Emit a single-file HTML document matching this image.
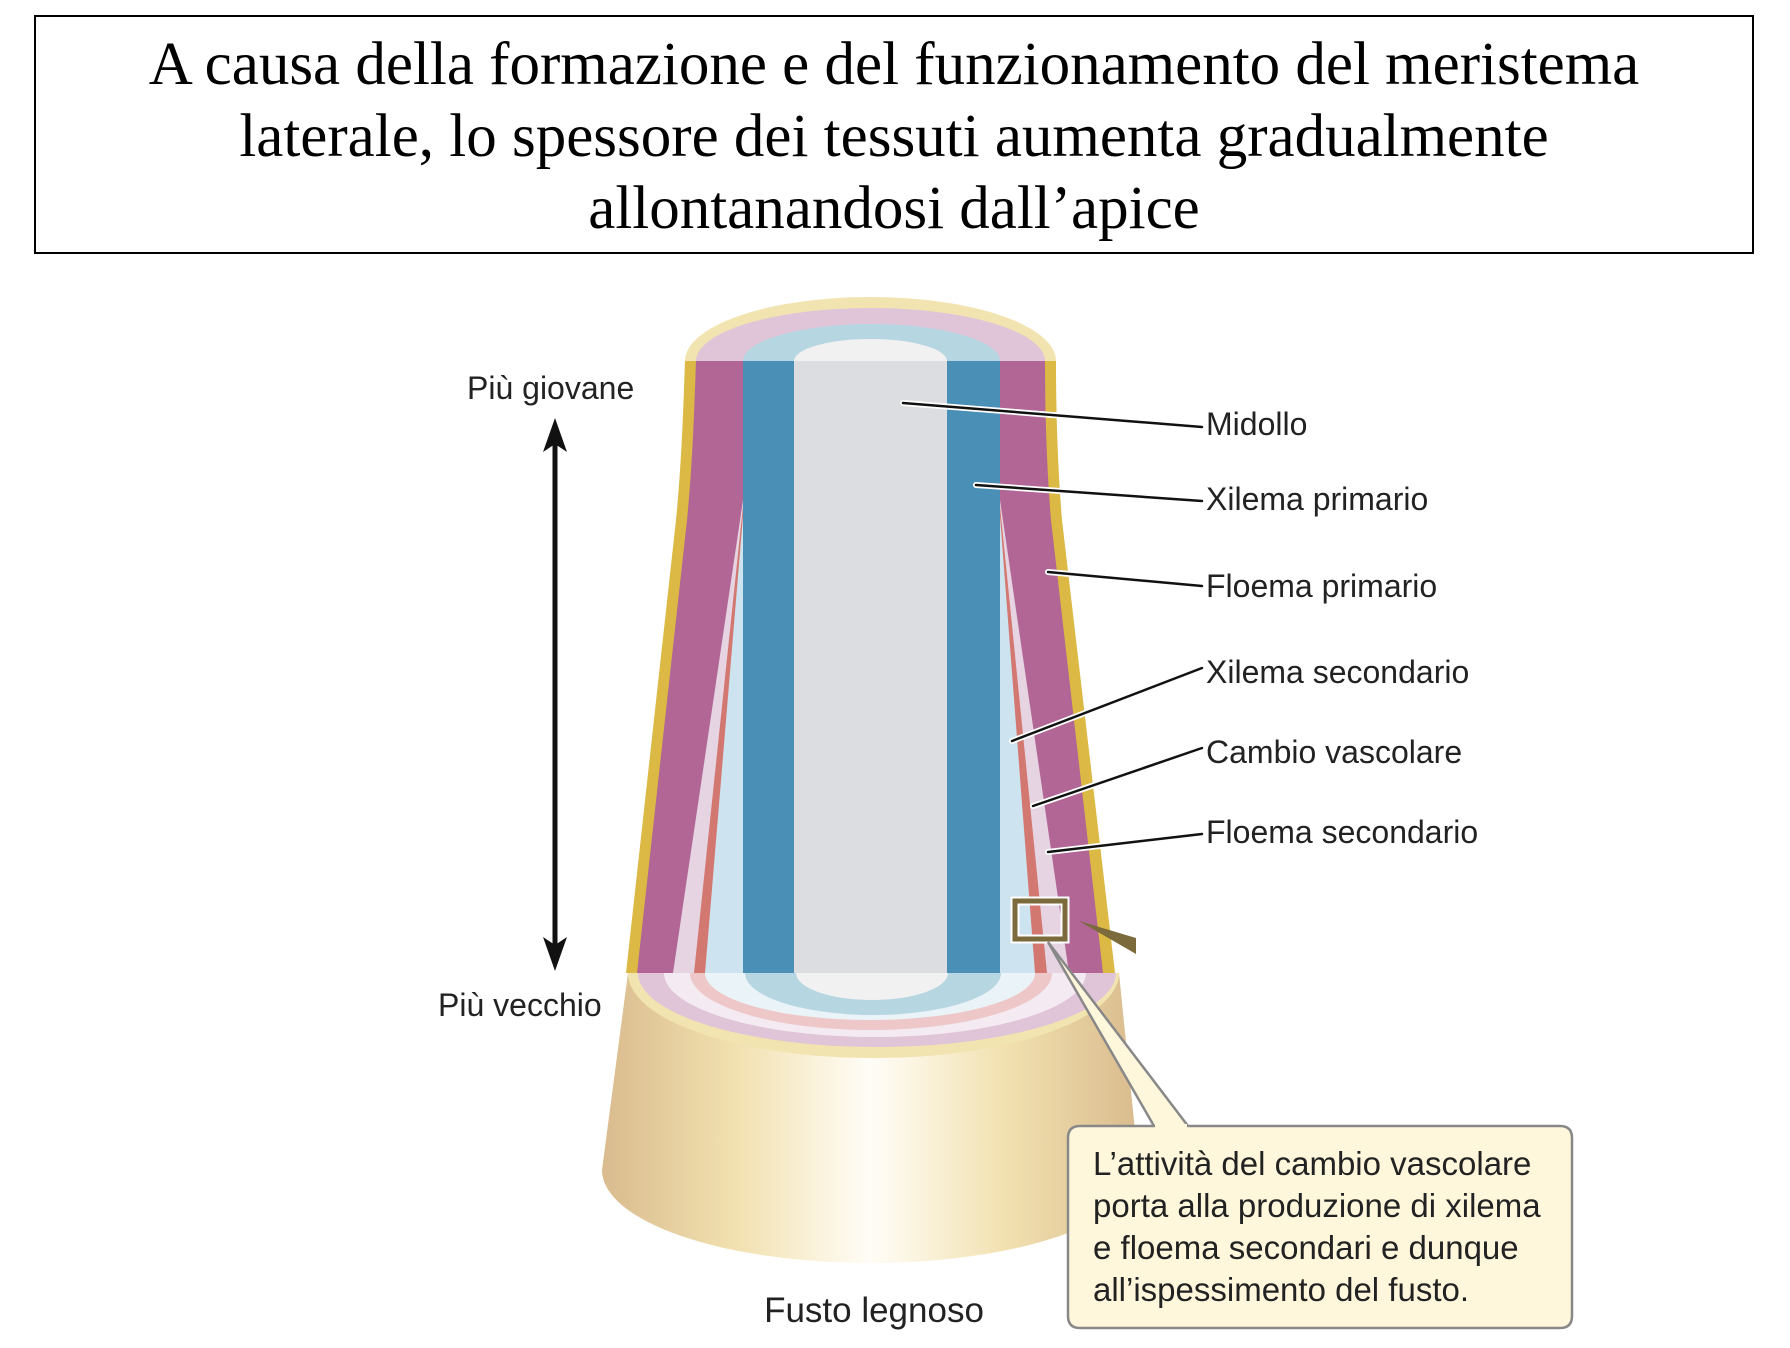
<!DOCTYPE html>
<html><head><meta charset="utf-8"><style>
html,body{margin:0;padding:0;background:#fff;}
body{width:1790px;height:1348px;position:relative;overflow:hidden;}
.title{position:absolute;left:34px;top:15px;width:1720px;height:239px;border:2px solid #000;box-sizing:border-box;font-family:"Liberation Serif",serif;font-size:61px;line-height:72px;text-align:center;padding-top:12px;color:#000;white-space:nowrap;}
svg{position:absolute;left:0;top:0;}
</style></head><body>
<div class="title">A causa della formazione e del funzionamento del meristema<br>laterale, lo spessore dei tessuti aumenta gradualmente<br>allontanandosi dall’apice</div>
<svg width="1790" height="1348" viewBox="0 0 1790 1348">
<defs>
<linearGradient id="tr" x1="0" x2="1" y1="0" y2="0">
<stop offset="0" stop-color="#d9bb8e"/><stop offset="0.25" stop-color="#f2e1b0"/><stop offset="0.5" stop-color="#fffdf7"/><stop offset="0.75" stop-color="#f2e1b0"/><stop offset="1" stop-color="#d9bb8e"/>
</linearGradient>
</defs>
<path d="M628,973 L602,1170 A268.5,93 0 0 0 1139,1170 L1119,973 Z" fill="url(#tr)"/>
<path d="M628,973 A245.5,85 0 0 0 1119,973Z" fill="#f2e4b0"/>
<path d="M638,973 A239,74 0 0 0 1116,973Z" fill="#e0c4d8"/>
<path d="M664,973 A211,64 0 0 0 1086,973Z" fill="#f4eaf2"/>
<path d="M690,973 A181,57 0 0 0 1052,973Z" fill="#eec8c8"/>
<path d="M705,973 A165,47 0 0 0 1035,973Z" fill="#eaf3f7"/>
<path d="M745,973 A128,42 0 0 0 1001,973Z" fill="#b6d6e2"/>
<path d="M796,973 A76,27 0 0 0 948,973Z" fill="#f1f1f1"/>
<path d="M685,360 C683,420 681,470 676,520 L626,973 L1115,973 L1062,520 C1058,470 1056,420 1056,360 Z" fill="#dbb944"/>
<path d="M696,360 C694,420 692,470 687,520 L637,973 L1103,973 L1051,520 C1047,470 1045,420 1045,360 Z" fill="#b16695"/>
<polygon points="743,500 673,973 743,973" fill="#e6d4e2"/>
<polygon points="743,506 694,973 743,973" fill="#d37870"/>
<polygon points="743,516 705,973 743,973" fill="#cde3ef"/>
<polygon points="1000,500 1069,973 1000,973" fill="#e6d4e2"/>
<polygon points="1000,506 1047,973 1000,973" fill="#d37870"/>
<polygon points="1000,516 1035,973 1000,973" fill="#cde3ef"/>
<rect x="743" y="360" width="51" height="613" fill="#4a8fb6"/>
<rect x="947" y="360" width="53" height="613" fill="#4a8fb6"/>
<rect x="794" y="360" width="153" height="613" fill="#dcdde0"/>
<path d="M685,361 A185.5,64 0 0 1 1056,361Z" fill="#f2e4b0"/>
<path d="M696,361 A174.5,53 0 0 1 1045,361Z" fill="#e0c4d8"/>
<path d="M743,361 A128.5,37 0 0 1 1000,361Z" fill="#b6d6e2"/>
<path d="M794,361 A76.5,22 0 0 1 947,361Z" fill="#f1f1f1"/>
<line x1="555" y1="440" x2="555" y2="950" stroke="#111" stroke-width="5"/>
<polygon points="555,418 543,452 555,444 567,452" fill="#111"/>
<polygon points="555,971 543,937 555,945 567,937" fill="#111"/>
<g stroke-linecap="round">
<g stroke="#fff" stroke-width="6">
<line x1="903" y1="403" x2="1202" y2="427"/><line x1="976" y1="485" x2="1202" y2="501"/><line x1="1048" y1="572" x2="1202" y2="586"/><line x1="1012" y1="741" x2="1202" y2="668"/><line x1="1033" y1="806" x2="1202" y2="748"/><line x1="1048" y1="852" x2="1202" y2="834"/>
</g>
<g stroke="#111" stroke-width="2.5">
<line x1="903" y1="403" x2="1202" y2="427"/><line x1="976" y1="485" x2="1202" y2="501"/><line x1="1048" y1="572" x2="1202" y2="586"/><line x1="1012" y1="741" x2="1202" y2="668"/><line x1="1033" y1="806" x2="1202" y2="748"/><line x1="1048" y1="852" x2="1202" y2="834"/>
</g>
</g>
<rect x="1015" y="901" width="50" height="38" fill="none" stroke="#fff" stroke-width="9"/>
<rect x="1015" y="901" width="50" height="38" fill="none" stroke="#7a6a3c" stroke-width="5"/>
<polygon points="1079,921 1136,938 1136,954" fill="#7a6a3c"/>
<path d="M1080,1126 L1154,1126 L1048,942 L1188,1126 L1560,1126 Q1572,1126 1572,1138 L1572,1316 Q1572,1328 1560,1328 L1080,1328 Q1068,1328 1068,1316 L1068,1138 Q1068,1126 1080,1126 Z" fill="#fff7dc" stroke="#888" stroke-width="2.5"/>
<line x1="1155" y1="1126" x2="1187" y2="1126" stroke="#fff7dc" stroke-width="4"/>
<g font-family="Liberation Sans, sans-serif" fill="#222">
<text x="467" y="399" font-size="32">Più giovane</text>
<text x="438" y="1016" font-size="32">Più vecchio</text>
<text x="1206" y="435" font-size="32">Midollo</text>
<text x="1206" y="510" font-size="32">Xilema primario</text>
<text x="1206" y="597" font-size="32">Floema primario</text>
<text x="1206" y="683" font-size="32">Xilema secondario</text>
<text x="1206" y="763" font-size="32">Cambio vascolare</text>
<text x="1206" y="843" font-size="32">Floema secondario</text>
<text x="874" y="1322" font-size="35" text-anchor="middle">Fusto legnoso</text>
<g font-size="33">
<text x="1093" y="1175">L’attività del cambio vascolare</text>
<text x="1093" y="1217">porta alla produzione di xilema</text>
<text x="1093" y="1259">e floema secondari e dunque</text>
<text x="1093" y="1301">all’ispessimento del fusto.</text>
</g>
</g>
</svg>
</body></html>
